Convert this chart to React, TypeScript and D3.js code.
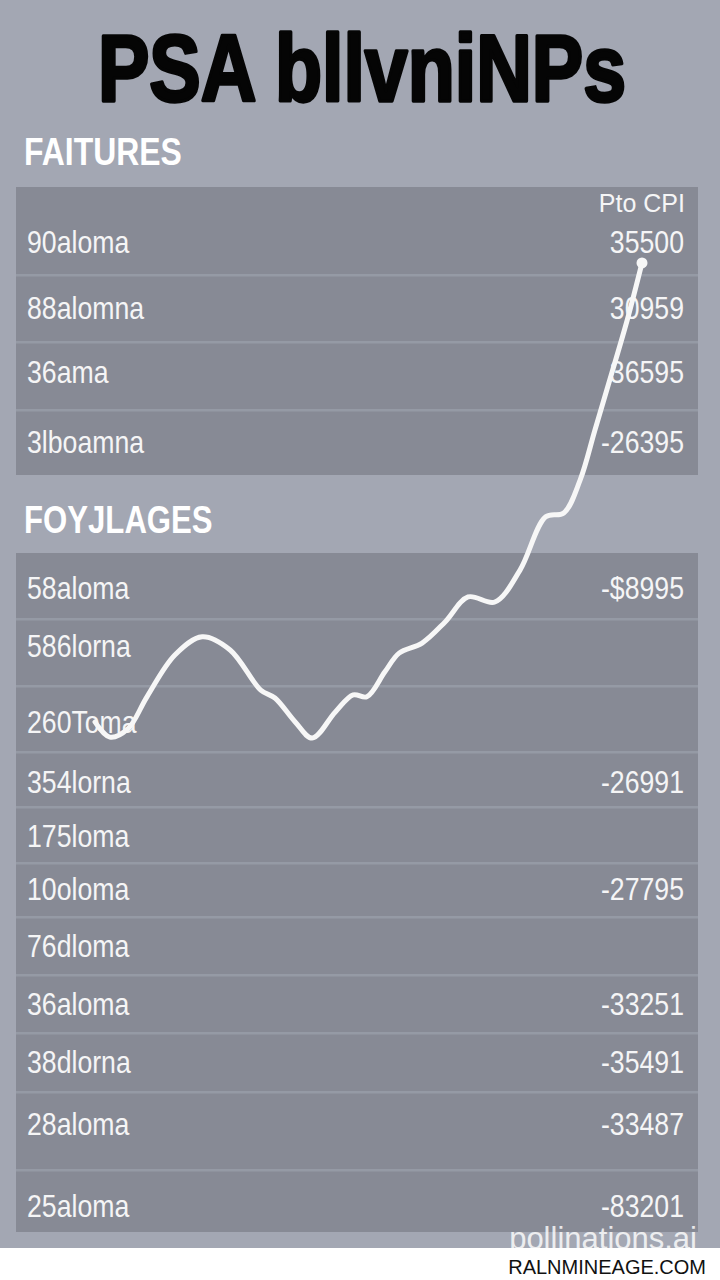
import React from "react";
import * as d3 from "d3";

// ---- data ----
const titleText = "PSA bllvniNPs";
const section1Title = "FAITURES";
const section2Title = "FOYJLAGES";
const columnHeader = "Pto CPI";

const featureLabels = ["90aloma", "88alomna", "36ama", "3lboamna"];
const featureValues = ["35500", "30959", "36595", "-26395"];

const foliageLabels = [
  "58aloma", "586lorna", "260Toma", "354lorna", "175loma", "10oloma",
  "76dloma", "36aloma", "38dlorna", "28aloma", "25aloma",
];
const foliageValues = [
  "-$8995", "", "", "-26991", "", "-27795", "", "-33251", "-35491", "-33487", "-83201",
];

// CPI trace: position along the run and index level
const cpiStep = [
  0, 2.7, 6.0, 9.5, 14.6, 19.6, 24.7, 30.3, 32.9, 36.6, 39.7, 43.9, 47.2, 49.7,
  53.0, 55.6, 59.8, 64.0, 68.2, 73.1, 77.7, 82.4, 85.7, 88.7, 91.4, 94.1, 97.3, 100,
];
const cpiLevel = [
  3.75, 0.6, 2.3, 9.0, 17.7, 21.5, 18.75, 10.4, 8.75, 3.75, 0.4, 5.8, 9.4, 9.0,
  14.2, 18.1, 20.2, 24.6, 29.8, 28.75, 35.4, 46.5, 47.3, 54.2, 64.6, 75.0, 87.5, 99.4,
];

const footerText = "RALNMINEAGE.COM";
const watermarkText = "pollinations.ai";

// ---- layout ----
const W = 720;
const H = 1280;
const STRIP_TOP = 1248;
const BG = "#a3a7b3";
const PANEL = "#878a95";
const SEP = "#959aa5";
const TEXT = "#f5f5f6";
const SANS = "'Liberation Sans', Arial, Helvetica, sans-serif";

const panelX0 = 16;
const panelX1 = 698;
const panel1Edges = [187, 275, 342, 410, 475];
const panel1Baselines = [253, 319, 383, 453];
const panel2Edges = [553, 619, 686, 752, 807, 863, 917, 975, 1033, 1092, 1170, 1232];
const panel2Baselines = [599, 657, 733, 793, 847, 900, 957, 1015, 1073, 1135, 1217];

const x = d3.scaleLinear().domain([0, 100]).range([95, 642]);
const y = d3.scaleLinear().domain([0, 100]).range([740, 260]);

const lineGen = d3
  .line<number>()
  .x((_, i) => x(cpiStep[i]))
  .y((d) => y(d))
  .curve(d3.curveCatmullRom.alpha(0.5));

// Horizontally condensed text (narrow face emulated by a horizontal squeeze)
function Narrow({
  x: tx,
  y: ty,
  sx,
  anchor = "start",
  children,
  ...rest
}: {
  x: number;
  y: number;
  sx: number;
  anchor?: "start" | "middle" | "end";
  children: React.ReactNode;
  [k: string]: unknown;
}) {
  return (
    <g transform={`translate(${tx},${ty}) scale(${sx},1)`}>
      <text x={0} y={0} textAnchor={anchor} {...rest}>
        {children}
      </text>
    </g>
  );
}

function Panel({
  edges,
  baselines,
  labels,
  values,
}: {
  edges: number[];
  baselines: number[];
  labels: string[];
  values: string[];
}) {
  const top = edges[0];
  const bottom = edges[edges.length - 1];
  return (
    <g>
      <rect x={panelX0} y={top} width={panelX1 - panelX0} height={bottom - top} fill={PANEL} />
      {edges.slice(1, -1).map((e, i) => (
        <rect key={i} x={panelX0} y={e - 1} width={panelX1 - panelX0} height={2.5} fill={SEP} />
      ))}
      {labels.map((l, i) => (
        <Narrow key={"l" + i} x={27} y={baselines[i]} sx={0.86} fill={TEXT} fontFamily={SANS} fontSize={31}>
          {l}
        </Narrow>
      ))}
      {values.map((v, i) =>
        v ? (
          <Narrow
            key={"v" + i}
            x={684}
            y={baselines[i]}
            sx={0.86}
            anchor="end"
            fill={TEXT}
            fontFamily={SANS}
            fontSize={31}
          >
            {v}
          </Narrow>
        ) : null
      )}
    </g>
  );
}

export default function App() {
  const path = lineGen(cpiLevel) || "";
  const last = cpiLevel.length - 1;
  return (
    <svg
      width={W}
      height={H}
      viewBox={`0 0 ${W} ${H}`}
      style={{ position: "absolute", left: 0, top: 0, display: "block" }}
    >
      <defs>
        <clipPath id="above-strip">
          <rect x={0} y={0} width={W} height={STRIP_TOP} />
        </clipPath>
      </defs>
      <rect x={0} y={0} width={W} height={H} fill={BG} />

      <Narrow
        x={362}
        y={101}
        sx={0.82}
        anchor="middle"
        fontFamily={SANS}
        fontWeight={700}
        fontSize={94}
        fill="#050505"
        stroke="#050505"
        strokeWidth={3.5}
        strokeLinejoin="round"
      >
        {titleText}
      </Narrow>

      <Narrow x={24} y={165} sx={0.84} fontFamily={SANS} fontWeight={700} fontSize={38} fill="#ffffff">
        {section1Title}
      </Narrow>

      <Panel edges={panel1Edges} baselines={panel1Baselines} labels={featureLabels} values={featureValues} />
      <text x={685} y={212} textAnchor="end" fill={TEXT} fontFamily={SANS} fontSize={25}>
        {columnHeader}
      </text>

      <Narrow x={24} y={533} sx={0.82} fontFamily={SANS} fontWeight={700} fontSize={38} fill="#ffffff">
        {section2Title}
      </Narrow>

      <Panel edges={panel2Edges} baselines={panel2Baselines} labels={foliageLabels} values={foliageValues} />

      <path d={path} fill="none" stroke="#f7f7f7" strokeWidth={5} strokeLinecap="round" strokeLinejoin="round" />
      <circle cx={x(cpiStep[last])} cy={y(cpiLevel[last])} r={5.5} fill="#f7f7f7" />

      <g clipPath="url(#above-strip)">
        <text x={697} y={1249} textAnchor="end" fontFamily={SANS} fontSize={31} fill="#ffffff" opacity={0.8}>
          {watermarkText}
        </text>
      </g>
      <rect x={0} y={STRIP_TOP} width={W} height={H - STRIP_TOP} fill="#ffffff" />
      <text x={706} y={1274} textAnchor="end" fontFamily={SANS} fontSize={20} fill="#111111">
        {footerText}
      </text>
    </svg>
  );
}
